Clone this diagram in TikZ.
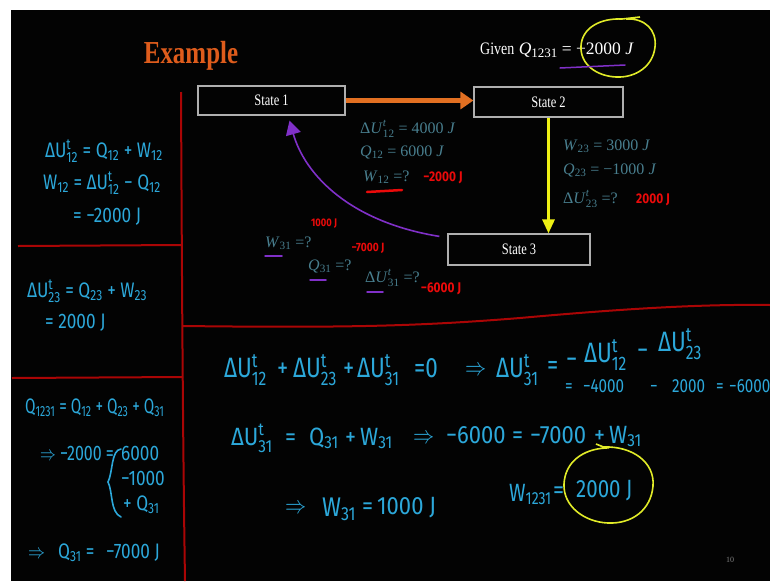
\documentclass[tikz,border=0pt]{standalone}
\usepackage{amsmath}
\usepackage{graphicx}
\usepackage{fontspec}
\setmainfont{Liberation Serif}
\newfontfamily\hwfont{Fira Sans}
\usetikzlibrary{arrows.meta,calc}
\definecolor{bgblack}{RGB}{3,3,3}
\definecolor{exorange}{RGB}{222,92,28}
\definecolor{arrorange}{RGB}{226,112,34}
\definecolor{arryellow}{RGB}{238,240,20}
\definecolor{arrpurple}{RGB}{128,48,200}
\definecolor{tealtx}{RGB}{72,126,142}
\definecolor{hwcyan}{RGB}{44,168,218}
\definecolor{redann}{RGB}{235,10,10}
\definecolor{redline}{RGB}{170,5,5}
\definecolor{boxgray}{RGB}{175,175,175}
\definecolor{circyellow}{RGB}{225,235,40}
\newcommand{\hs}[2]{$^{\text{#1}}_{\text{#2}}$}
\newcommand{\hb}[1]{$_{\text{#1}}$}
\newcommand{\tv}[3]{\textit{#1}$^{\text{\itshape #2}}_{\text{#3}}$}
\newcommand{\tb}[2]{\textit{#1}$_{\text{#2}}$}
\newcommand{\cond}[1]{\scalebox{0.78}[1]{#1}}
\begin{document}
\begin{tikzpicture}[x=1pt,y=-1pt,
  stbox/.style={draw=boxgray,line width=1.2pt,fill=bgblack,text=white,inner sep=0pt,
    font=\fontsize{16}{16}\selectfont},
  tealtxt/.style={text=tealtx,anchor=base west,inner sep=0pt,font=\fontsize{16}{16}\selectfont},
  redhw/.style={text=redann,inner sep=0pt,xscale=0.85,font=\hwfont\bfseries\fontsize{14}{14}\selectfont},
  hwbase/.style={text=hwcyan,anchor=base west,inner sep=0pt},
  hw/.style={hwbase,xscale=0.82,font=\hwfont\fontsize{21}{21}\selectfont},
  hwa/.style={hwbase,xscale=0.8,font=\hwfont\fontsize{28}{28}\selectfont},
  hwb/.style={hwbase,xscale=0.8,font=\hwfont\fontsize{19}{19}\selectfont},
  hwc/.style={hwbase,xscale=0.88,font=\hwfont\fontsize{25}{25}\selectfont},
  arrw/.style={hwbase,xscale=0.85,font=\fontsize{24}{24}\selectfont},
  redframe/.style={draw=redline,line width=2pt},
  purpline/.style={draw=arrpurple,line width=1.5pt,line cap=round},
  yring/.style={draw=circyellow,line width=1.6pt}]
\useasboundingbox (0,0) rectangle (770,581);
\fill[white] (0,0) rectangle (770,581);
\fill[bgblack] (11,10) rectangle (770,581);

% title and given
\node[text=exorange,inner sep=0pt,font=\fontsize{32}{32}\selectfont\bfseries] (title) at (191,56) {\cond{Example}};
\node[anchor=base west,inner sep=0pt,text=white,font=\fontsize{17.5}{17.5}\selectfont] (given) at (480,54)
  {\scalebox{0.8}[1]{Given} \textit{Q}\raisebox{-3pt}{\fontsize{13}{13}\selectfont 1231} = −2000 \textit{J}};
\draw[yring] (626,19) .. controls (645,18) and (657,30) .. (655,47) .. controls (653,66) and (636,78) .. (616,77)
  .. controls (596,76) and (580,64) .. (581,46) .. controls (582,28) and (600,18) .. (622,19) -- (640,17);
\coordinate (gu1) at (560,68); \coordinate (gu2) at (625,65);
\draw[purpline] (gu1) -- (gu2);

% states
\node[stbox,minimum width=147pt,minimum height=29pt] (s1) at (271.5,100.5) {\cond{State 1}};
\node[stbox,minimum width=149pt,minimum height=30pt] (s2) at (548.5,102) {\cond{State 2}};
\node[stbox,minimum width=142pt,minimum height=31pt] (s3) at (519,249.5) {\cond{State 3}};

\draw[arrorange,line width=5pt,-{Triangle[length=13pt,width=17pt]}] (s1.east) -- (s1.east -| s2.west);
\draw[arryellow,line width=3pt,-{Triangle[length=14pt,width=12pt]}] (s2.south) -- (s2.south |- s3.north);
\draw[arrpurple,line width=1.6pt,-{Triangle[length=14pt,width=15pt]}]
  ($(s3.north west)+(-8,3)$) .. controls (350,222) and (305,175) .. ($(s1.south)+(18,5)$);

% teal given data
\node[tealtxt] (d1) at (360,133) {Δ\tv{U}{t}{12} = 4000 \textit{J}};
\node[tealtxt] (d2) at (360,156) {\tb{Q}{12} = 6000 \textit{J}};
\node[tealtxt] (d3) at (363,181) {\tb{W}{12} =?};
\node[tealtxt] (d4) at (563,150) {\tb{W}{23} = 3000 \textit{J}};
\node[tealtxt] (d5) at (563,174) {\tb{Q}{23} = −1000 \textit{J}};
\node[tealtxt] (d6) at (563,203) {Δ\tv{U}{t}{23} =?};
\node[tealtxt] (d7) at (265,247) {\tb{W}{31} =?};
\node[tealtxt] (d8) at (308,270) {\tb{Q}{31} =?};
\node[tealtxt] (d9) at (365,282) {Δ\tv{U}{t}{31} =?};

% red annotations
\node[redhw] (r1) at (443,178) {−2000 J};
\node[redhw] (r2) at (653,200) {2000 J};
\node[redhw,font=\hwfont\bfseries\fontsize{11}{11}\selectfont] (r3) at (324,224) {1000 J};
\node[redhw,font=\hwfont\bfseries\fontsize{12}{12}\selectfont] (r4) at (368,248) {−7000 J};
\node[redhw] (r5) at (441,289) {−6000 J};
\draw[redann,line width=2.5pt,line cap=round] (d3.base west) ++(4,11) coordinate (ru1) -- ++(35,-2) coordinate (ru2);
\draw[purpline] (265,256) -- (282,256);
\draw[purpline] (310,280) -- (326,280);
\draw[purpline] (367,292) -- (383,292);

% red frame lines
\draw[redframe] (181,92) .. controls (182,300) and (183,450) .. (185,581);
\draw[redframe] (18,246) -- (181,245);
\draw[redframe] (12,378) -- (183,377);
\draw[redframe] (183,326) .. controls (350,328) and (420,326) .. (520,318) .. controls (620,309) and (700,304) .. (770,305);

% left column handwriting
\node[hw] (a1) at (45,157) {ΔU\hs{t}{12} = Q\hb{12} + W\hb{12}};
\node[hw] (a2) at (43,189) {W\hb{12} = ΔU\hs{t}{12} − Q\hb{12}};
\node[hw] (a3) at (73,222) {= −2000 J};
\node[hw] (a4) at (27,297) {ΔU\hs{t}{23} = Q\hb{23} + W\hb{23}};
\node[hw] (a5) at (45,328) {= 2000 J};
\node[hwbase,xscale=0.72,font=\hwfont\fontsize{21}{21}\selectfont] (a6) at (25,413) {Q\hb{1231} = Q\hb{12} + Q\hb{23} + Q\hb{31}};
\node[hwbase,xscale=0.76,font=\hwfont\fontsize{21}{21}\selectfont] (a7) at (40,460) {$\Rightarrow$ −2000 =};
\draw[hwcyan,line width=1.6pt,line cap=round] (121,449) .. controls (111,450) and (113,472) .. (108,482)
  .. controls (113,492) and (110,512) .. (121,517);
\node[hw] (a8) at (121,460) {6000};
\node[hw] (a9) at (121,485) {−1000};
\node[hw] (a10) at (123,510) {+ Q\hb{31}};
\node[hw] (a11) at (28,558) {$\Rightarrow$};
\node[hw] (a12) at (58,558) {Q\hb{31} =};
\node[hw] (a13) at (106,558) {−7000 J};

% main area handwriting, line 1
\node[hwa] (m1a) at (224,377) {ΔU\hs{t}{12}};
\node[hwa] (m1b) at (277,377) {+};
\node[hwa] (m1c) at (293,377) {ΔU\hs{t}{23}};
\node[hwa] (m1d) at (343,377) {+};
\node[hwa] (m1e) at (357,377) {ΔU\hs{t}{31}};
\node[hwa] (m1f) at (414,377) {=0};
\node[arrw] (m2a) at (465,375) {$\Rightarrow$};
\node[hwa] (m2b) at (496,377) {ΔU\hs{t}{31}};
\node[hwa] (m2c) at (547,374) {=};
\node[hwa] (m2d) at (566,368) {−};
\node[hwa] (m2e) at (584,362) {ΔU\hs{t}{12}};
\node[hwa] (m2f) at (637,359) {−};
\node[hwa] (m2g) at (658,351) {ΔU\hs{t}{23}};
% line 2
\node[hwb] (m3a) at (565,392) {=};
\node[hwb] (m3b) at (583,392) {−4000};
\node[hwb] (m3c) at (650,392) {−};
\node[hwb] (m3d) at (672,392) {2000};
\node[hwb] (m3e) at (716,392) {=};
\node[hwb] (m3f) at (729,392) {−6000};
% line 3
\node[hwc] (m4a) at (231,445) {ΔU\hs{t}{31}};
\node[hwc] (m4b) at (285,445) {=};
\node[hwc] (m4c) at (309,445) {Q\hb{31}};
\node[hwc] (m4d) at (345,445) {+};
\node[hwc] (m4e) at (360,445) {W\hb{31}};
\node[arrw] (m4f) at (413,443) {$\Rightarrow$};
\node[hwc] (m4g) at (446,443) {−6000};
\node[hwc] (m4h) at (512,443) {=};
\node[hwc] (m4i) at (530,443) {−7000};
\node[hwc] (m4j) at (594,443) {+};
\node[hwc] (m4k) at (609,443) {W\hb{31}};
% line 4
\node[arrw] (m5a) at (285,513) {$\Rightarrow$};
\node[hwbase,xscale=0.85,font=\hwfont\fontsize{27}{27}\selectfont] (m5b) at (322,516) {W\hb{31}};
\node[hwc] (m5c) at (362,514) {=};
\node[hwc] (m5d) at (377,514) {1000 J};
\node[hwbase,xscale=0.8,font=\hwfont\fontsize{25}{25}\selectfont] (m6a) at (509,501) {W\hb{1231}};
\node[hwc] (m6b) at (553,498) {=};
\node[hwbase,xscale=0.82,font=\hwfont\fontsize{25}{25}\selectfont] (m6c) at (576,497) {2000 J};
\draw[yring] (604,447) .. controls (632,446) and (655,462) .. (653,486) .. controls (651,510) and (632,524) .. (608,523)
  .. controls (584,522) and (563,506) .. (564,484) .. controls (565,462) and (583,449) .. (606,448) -- (596,444);

\node[text=gray,inner sep=0pt,font=\fontsize{8}{8}\selectfont] (pg) at (730,560) {10};
\end{tikzpicture}
\end{document}
